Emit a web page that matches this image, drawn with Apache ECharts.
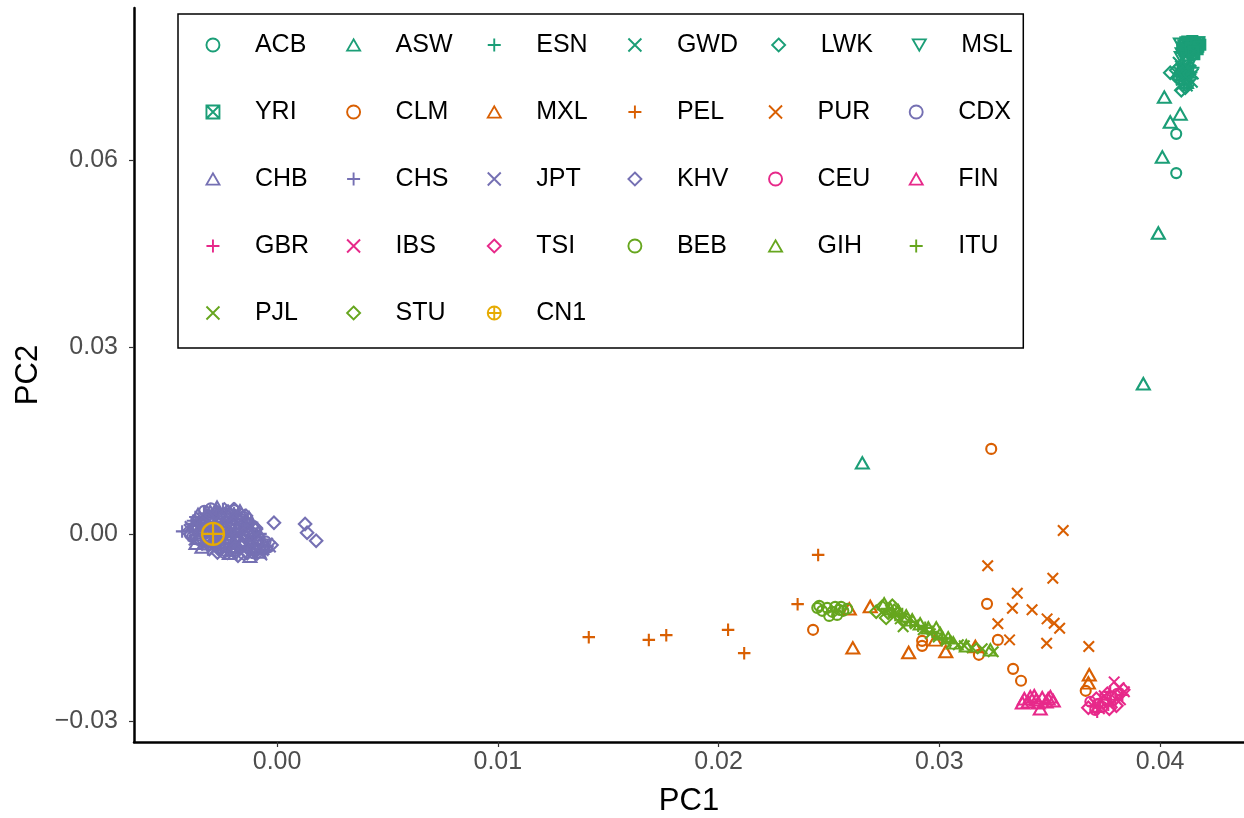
<!DOCTYPE html>
<html><head><meta charset="utf-8">
<script src="https://cdn.jsdelivr.net/npm/echarts@6/dist/echarts.min.js"></script>
<style>html,body{margin:0;padding:0;background:#fff}#c{width:1244px;height:818px}</style>
</head><body><div id="c"></div>
<script>
// ---- data (PC1, PC2) ----
const populations = ['ACB','ASW','ESN','GWD','LWK','MSL','YRI','CLM','MXL','PEL','PUR','CDX','CHB','CHS','JPT','KHV','CEU','FIN','GBR','IBS','TSI','BEB','GIH','ITU','PJL','STU','CN1'];
const xTicks = [0, 0.01, 0.02, 0.03, 0.04];
const yTicks = [-0.03, 0, 0.03, 0.06];
const xTitle = 'PC1';
const yTitle = 'PC2';

const ACB = [[0.04073,0.0642],[0.04073,0.0579],[0.04082,0.0735],[0.04110,0.0732],[0.04101,0.0748],[0.04128,0.0722]];
const ASW = [[0.04019,0.0701],[0.04091,0.0674],[0.04046,0.0661],[0.04010,0.0605],[0.03992,0.0483],[0.03924,0.0241],[0.02651,0.0114],[0.04101,0.0738],[0.04119,0.0725]];
const ESN = [[0.04128,0.0760],[0.04101,0.0754],[0.04137,0.0751],[0.04114,0.0744],[0.04141,0.0741],[0.04105,0.0735],[0.04128,0.0728],[0.04110,0.0722],[0.04137,0.0732],[0.04150,0.0748],[0.04105,0.0748],[0.04128,0.0738]];
const GWD = [[0.04092,0.0751],[0.04119,0.0748],[0.04087,0.0741],[0.04119,0.0735],[0.04096,0.0728],[0.04146,0.0725],[0.04123,0.0719],[0.04092,0.0719],[0.04082,0.0757],[0.04150,0.0738],[0.04110,0.0726],[0.04137,0.0745]];
const LWK = [[0.04046,0.0740],[0.04073,0.0744],[0.04105,0.0741],[0.04078,0.0732],[0.04114,0.0716],[0.04096,0.0712],[0.04132,0.0738]];
const MSL = [[0.04092,0.0786],[0.04137,0.0786],[0.04169,0.0788],[0.04110,0.0777],[0.04150,0.0780],[0.04132,0.0767],[0.04096,0.0764],[0.04123,0.0757],[0.04160,0.0775],[0.04100,0.0770],[0.04146,0.0763],[0.04114,0.0761]];
const YRI = [[0.04114,0.0789],[0.04146,0.0791],[0.04178,0.0789],[0.04128,0.0783],[0.04164,0.0783],[0.04100,0.0780],[0.04141,0.0777],[0.04182,0.0785],[0.04119,0.0773],[0.04155,0.0770],[0.04170,0.0778],[0.04132,0.0787],[0.04123,0.0790],[0.04160,0.0786],[0.04105,0.0784],[0.04137,0.0780],[0.04173,0.0782],[0.04150,0.0774]];

const CLM = [[0.03235,0.01364],[0.03216,-0.01123],[0.02428,-0.01540],[0.03265,-0.01701],[0.03334,-0.02166],[0.03370,-0.02358],[0.02922,-0.01717],[0.02922,-0.01797],[0.03179,-0.01941],[0.03663,-0.02519]];
const MXL = [[0.02592,-0.01203],[0.02687,-0.01166],[0.02608,-0.01829],[0.02861,-0.01904],[0.02981,-0.01701],[0.03029,-0.01888],[0.03163,-0.01808],[0.03679,-0.02262],[0.03675,-0.02391]];
const PEL = [[0.01412,-0.01657],[0.01684,-0.01701],[0.01763,-0.01625],[0.02043,-0.01540],[0.02116,-0.01914],[0.02358,-0.01128],[0.02451,-0.00337]];
const PUR = [[0.03561,0.00053],[0.03219,-0.00513],[0.03514,-0.00711],[0.03353,-0.00951],[0.03331,-0.01192],[0.03420,-0.01219],[0.03488,-0.01364],[0.03520,-0.01433],[0.03545,-0.01513],[0.03265,-0.01444],[0.03318,-0.01701],[0.03486,-0.01754],[0.03677,-0.01808]];

const CDX = [[-0.00300,0.0041],[-0.00250,0.0032],[-0.00300,0.0024],[-0.00164,0.0024],[-0.00340,0.0011],[-0.00205,0.0013],[-0.00376,0.0005],[-0.00241,0.0003],[-0.00106,0.0001],[-0.00385,-0.0005],[-0.00250,-0.0004],[-0.00115,-0.0004],[-0.00259,-0.0016],[-0.00124,-0.0014],[-0.00232,-0.0028],[-0.00097,-0.0028],[-0.00150,-0.0033],
  [-0.00330,0.0037],[-0.00195,0.0038],[-0.00289,0.0026],[-0.00154,0.0028],[-0.00307,0.0018],[-0.00172,0.0016],[-0.00344,0.0008],[-0.00209,0.0009],[-0.00395,-0.0001],[-0.00260,-0.0002],[-0.00125,0.0000],[-0.00322,-0.0011],[-0.00187,-0.0010],[-0.00052,-0.0012],[-0.00232,-0.0021],[-0.00097,-0.0022],[-0.00243,-0.0030],[-0.00108,-0.0031]];
const CHB = [[-0.00272,0.0043],[-0.00358,0.0031],[-0.00222,0.0030],[-0.00272,0.0022],[-0.00137,0.0020],[-0.00313,0.0015],[-0.00178,0.0011],[-0.00349,0.0002],[-0.00214,0.0000],[-0.00086,0.0003],[-0.00358,-0.0007],[-0.00223,-0.0007],[-0.00088,-0.0007],[-0.00367,-0.0015],[-0.00232,-0.0013],[-0.00097,-0.0016],[-0.00205,-0.0026],[-0.00070,-0.0023],[-0.00123,-0.0036],
  [-0.00303,0.0036],[-0.00168,0.0037],[-0.00262,0.0027],[-0.00127,0.0026],[-0.00280,0.0017],[-0.00145,0.0018],[-0.00317,0.0007],[-0.00182,0.0008],[-0.00368,-0.0001],[-0.00233,0.0000],[-0.00098,-0.0002],[-0.00295,-0.0011],[-0.00160,-0.0012],[-0.00340,-0.0021],[-0.00205,-0.0020],[-0.00070,-0.0022],[-0.00216,-0.0031],[-0.00081,-0.0029]];
const CHS = [[-0.00245,0.0040],[-0.00331,0.0033],[-0.00195,0.0033],[-0.00381,0.0021],[-0.00245,0.0019],[-0.00113,0.0018],[-0.00286,0.0012],[-0.00151,0.0015],[-0.00322,0.0004],[-0.00187,0.0004],[-0.00331,-0.0004],[-0.00196,-0.0005],[-0.00061,-0.0009],[-0.00340,-0.0017],[-0.00205,-0.0017],[-0.00070,-0.0019],[-0.00313,-0.0025],[-0.00178,-0.0024],[-0.00043,-0.0026],[-0.00096,-0.0032],[-0.00430,0.0004],
  [-0.00276,0.0038],[-0.00370,0.0027],[-0.00235,0.0028],[-0.00388,0.0016],[-0.00253,0.0017],[-0.00118,0.0016],[-0.00290,0.0009],[-0.00155,0.0007],[-0.00341,-0.0001],[-0.00206,-0.0002],[-0.00075,0.0000],[-0.00268,-0.0010],[-0.00133,-0.0011],[-0.00313,-0.0022],[-0.00178,-0.0021],[-0.00043,-0.0020],[-0.00189,-0.0030],[-0.00056,-0.0029]];
const JPT = [[-0.00218,0.0042],[-0.00304,0.0030],[-0.00168,0.0031],[-0.00354,0.0023],[-0.00218,0.0023],[-0.00394,0.0012],[-0.00259,0.0010],[-0.00124,0.0012],[-0.00295,0.0001],[-0.00160,0.0002],[-0.00304,-0.0008],[-0.00169,-0.0008],[-0.00313,-0.0014],[-0.00178,-0.0015],[-0.00043,-0.0015],[-0.00286,-0.0027],[-0.00151,-0.0027],[-0.00204,-0.0033],[-0.00069,-0.0034],
  [-0.00249,0.0037],[-0.00343,0.0026],[-0.00208,0.0027],[-0.00361,0.0018],[-0.00226,0.0016],[-0.00398,0.0007],[-0.00263,0.0008],[-0.00128,0.0009],[-0.00314,0.0000],[-0.00179,-0.0001],[-0.00376,-0.0010],[-0.00241,-0.0012],[-0.00106,-0.0011],[-0.00286,-0.0020],[-0.00151,-0.0022],[-0.00030,-0.0021],[-0.00162,-0.0031]];
const KHV = [[-0.00192,0.0039],[-0.00277,0.0034],[-0.00141,0.0029],[-0.00327,0.0020],[-0.00191,0.0021],[-0.00367,0.0014],[-0.00232,0.0014],[-0.00097,0.0010],[-0.00403,0.0003],[-0.00268,0.0005],[-0.00133,0.0005],[-0.00277,-0.0006],[-0.00142,-0.0006],[-0.00286,-0.0018],[-0.00151,-0.0018],[-0.00025,-0.0018],[-0.00259,-0.0024],[-0.00124,-0.0025],[-0.00177,-0.0035],
  [-0.00222,0.0036],[-0.00316,0.0028],[-0.00181,0.0026],[-0.00334,0.0017],[-0.00199,0.0018],[-0.00371,0.0008],[-0.00236,0.0007],[-0.00101,0.0008],[-0.00287,-0.0002],[-0.00152,0.0000],[-0.00349,-0.0011],[-0.00214,-0.0010],[-0.00079,-0.0012],[-0.00259,-0.0021],[-0.00124,-0.0020],[-0.00270,-0.0030],[-0.00135,-0.0031],
  [-0.00095,0.0008],[-0.00014,0.0018],[0.00127,0.0016],[0.00136,0.0002],[0.00177,-0.0011]];

const CEU = [[0.03684,-0.02695],[0.03720,-0.02727],[0.03756,-0.02663],[0.03783,-0.02615],[0.03706,-0.02824],[0.03738,-0.02776],[0.03806,-0.02567]];
const FIN = [[0.03385,-0.02647],[0.03412,-0.02615],[0.03439,-0.02663],[0.03466,-0.02631],[0.03493,-0.02647],[0.03516,-0.02679],[0.03403,-0.02695],[0.03430,-0.02599],[0.03484,-0.02695],[0.03457,-0.02808],[0.03376,-0.02711],[0.03503,-0.02615],[0.03448,-0.02711]];
const GBR = [[0.03697,-0.02760],[0.03729,-0.02663],[0.03765,-0.02744],[0.03797,-0.02663],[0.03774,-0.02535],[0.03829,-0.02583],[0.03715,-0.02856]];
const IBS = [[0.03792,-0.02375],[0.03815,-0.02471],[0.03747,-0.02599],[0.03783,-0.02711],[0.03725,-0.02808],[0.03820,-0.02663],[0.03838,-0.02535]];
const TSI = [[0.03675,-0.02792],[0.03711,-0.02647],[0.03743,-0.02711],[0.03770,-0.02808],[0.03802,-0.02760],[0.03761,-0.02567],[0.03833,-0.02503]];

const BEB = [[0.02447,-0.01187],[0.02469,-0.01235],[0.02492,-0.01187],[0.02515,-0.01251],[0.02528,-0.01171],[0.02546,-0.01219],[0.02501,-0.01316],[0.02537,-0.01300],[0.02565,-0.01235],[0.02583,-0.01203],[0.02456,-0.01155],[0.02555,-0.01171]];
const GIH = [[0.02750,-0.01123],[0.02778,-0.01203],[0.02814,-0.01235],[0.02850,-0.01316],[0.02877,-0.01380],[0.02913,-0.01444],[0.02950,-0.01508],[0.02986,-0.01508],[0.03004,-0.01604],[0.03040,-0.01669],[0.03063,-0.01749],[0.03122,-0.01797],[0.03231,-0.01861]];
const ITU = [[0.02764,-0.01203],[0.02800,-0.01300],[0.02832,-0.01284],[0.02868,-0.01412],[0.02904,-0.01476],[0.02936,-0.01508],[0.02968,-0.01572],[0.03013,-0.01669],[0.03049,-0.01733]];
const PJL = [[0.02791,-0.01251],[0.02823,-0.01364],[0.02859,-0.01396],[0.02836,-0.01492],[0.02891,-0.01444],[0.02927,-0.01540],[0.02959,-0.01604],[0.02995,-0.01653],[0.03031,-0.01717],[0.03086,-0.01781],[0.03113,-0.01797],[0.03149,-0.01829],[0.03194,-0.01845],[0.03244,-0.01893]];
const STU = [[0.02714,-0.01251],[0.02741,-0.01171],[0.02768,-0.01267],[0.02796,-0.01235],[0.02759,-0.01348],[0.02818,-0.01316],[0.02841,-0.01380],[0.02787,-0.01155]];

const CN1 = [[-0.00290,0.0000]];

const dataByPop = {ACB,ASW,ESN,GWD,LWK,MSL,YRI,CLM,MXL,PEL,PUR,CDX,CHB,CHS,JPT,KHV,CEU,FIN,GBR,IBS,TSI,BEB,GIH,ITU,PJL,STU,CN1};

// ---- styles ----
const C = {afr:'#1B9E77', amr:'#D95F02', eas:'#7570B3', eur:'#E7298A', sas:'#66A61E', cn:'#E6AB02'};
const SHAPES = {
  circle:  {sym:'circle', size:10},
  tri:     {sym:'path://M0,8.66L5,0L10,8.66Z', size:[13,11.5]},
  plus:    {sym:'path://M0,5L10,5M5,0L5,10', size:12.5},
  cross:   {sym:'path://M0,0L10,10M10,0L0,10', size:10.5},
  diamond: {sym:'path://M5,0L10,5L5,10L0,5Z', size:12.5},
  dtri:    {sym:'path://M0,0L10,0L5,8.66Z', size:[13,11.5]},
  sqx:     {sym:'path://M0,0L10,0L10,10L0,10ZM0,0L10,10M10,0L0,10', size:10},
  cplus:   {sym:'path://M10,5A5,5,0,1,1,0,5A5,5,0,1,1,10,5ZM5,0L5,10M0,5L10,5', size:22}
};
const popStyle = {
  ACB:['afr','circle'],ASW:['afr','tri'],ESN:['afr','plus'],GWD:['afr','cross'],LWK:['afr','diamond'],MSL:['afr','dtri'],YRI:['afr','sqx'],
  CLM:['amr','circle'],MXL:['amr','tri'],PEL:['amr','plus'],PUR:['amr','cross'],
  CDX:['eas','circle'],CHB:['eas','tri'],CHS:['eas','plus'],JPT:['eas','cross'],KHV:['eas','diamond'],
  CEU:['eur','circle'],FIN:['eur','tri'],GBR:['eur','plus'],IBS:['eur','cross'],TSI:['eur','diamond'],
  BEB:['sas','circle'],GIH:['sas','tri'],ITU:['sas','plus'],PJL:['sas','cross'],STU:['sas','diamond'],
  CN1:['cn','cplus']
};

const FONT = "'Liberation Sans', Arial, sans-serif";

const series = populations.map(p => {
  const col = C[popStyle[p][0]];
  const sh = SHAPES[popStyle[p][1]];
  return {
    name: p, type: 'scatter', data: dataByPop[p],
    symbol: sh.sym, symbolSize: sh.size,
    itemStyle: {color: 'rgba(0,0,0,0)', borderColor: col, borderWidth: p === 'CN1' ? 2.2 : 2.1, opacity: 1},
    emphasis: {disabled: true}, silent: true
  };
});

const legendData = populations.map(p => {
  const col = C[popStyle[p][0]];
  const sh = SHAPES[popStyle[p][1]];
  return {name: p, icon: sh.sym, itemStyle: {color: 'rgba(0,0,0,0)', borderColor: col, borderWidth: 1.9}};
});

const fmt = v => (v < 0 ? '\u2212' : '') + Math.abs(v).toFixed(2);

const chart = echarts.init(document.getElementById('c'), null, {renderer: 'canvas'});
chart.setOption({
  animation: false,
  backgroundColor: '#fff',
  grid: {left: 134, right: 0, top: 8, bottom: 76, containLabel: false, outerBoundsMode: 'none'},
  xAxis: {
    type: 'value', min: -0.00648, max: 0.0438,
    name: xTitle, nameLocation: 'middle', nameGap: 44,
    nameTextStyle: {fontFamily: FONT, fontSize: 31, color: '#000'},
    splitLine: {show: false},
    axisLine: {onZero: false, lineStyle: {color: '#000', width: 2.5}},
    axisTick: {length: 5, lineStyle: {color: '#333', width: 1.2}, customValues: xTicks},
    axisLabel: {customValues: xTicks, formatter: fmt, fontFamily: FONT, fontSize: 25, color: '#4D4D4D', margin: 8}
  },
  yAxis: {
    type: 'value', min: -0.0334, max: 0.0844,
    name: yTitle, nameLocation: 'middle', nameGap: 86, nameRotate: 90,
    nameTextStyle: {fontFamily: FONT, fontSize: 31, color: '#000'},
    splitLine: {show: false},
    axisLine: {onZero: false, lineStyle: {color: '#000', width: 2.5}},
    axisTick: {length: 5, lineStyle: {color: '#333', width: 1.2}, customValues: yTicks},
    axisLabel: {customValues: yTicks, formatter: fmt, fontFamily: FONT, fontSize: 25, color: '#4D4D4D', margin: 16}
  },
  legend: {
    show: true, selectedMode: false, orient: 'horizontal',
    left: 178, top: 14, width: 850,
    padding: [14.1, 4, 18.1, 27.5],
    itemGap: 33.2, itemWidth: 13, itemHeight: 13,
    borderColor: '#000', borderWidth: 1.5, borderRadius: 0, backgroundColor: '#fff',
    textStyle: {fontFamily: FONT, fontSize: 25, color: '#000', width: 58, height: 33.8, lineHeight: 33.8, padding: [0,0,0,30.5], overflow: 'none'},
    data: legendData
  },
  series: series
});
</script></body></html>
